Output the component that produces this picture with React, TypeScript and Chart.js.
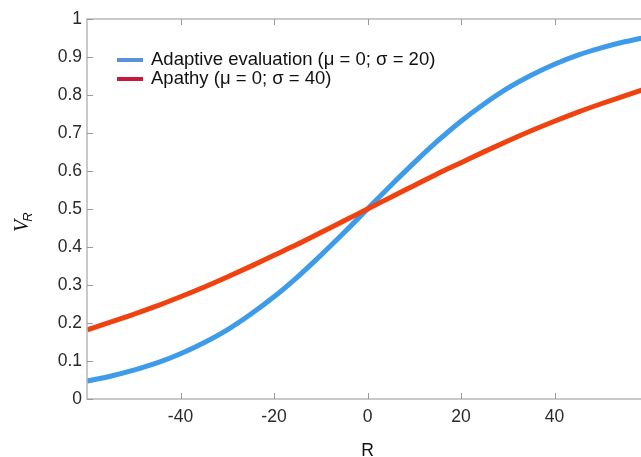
import React, { useEffect, useRef } from "react";
import { Chart, registerables } from "chart.js";

Chart.register(...registerables);

const xValues = [-60, -55, -50, -45, -40, -35, -30, -25, -20, -15, -10, -5, 0, 5, 10, 15, 20, 25, 30, 35, 40, 45, 50, 55, 60];
const adaptiveValues = [0.047, 0.060, 0.076, 0.095, 0.119, 0.148, 0.182, 0.223, 0.269, 0.321, 0.378, 0.438, 0.5, 0.562, 0.622, 0.679, 0.731, 0.777, 0.818, 0.852, 0.881, 0.905, 0.924, 0.940, 0.953];
const apathyValues = [0.182, 0.202, 0.223, 0.245, 0.269, 0.294, 0.321, 0.349, 0.378, 0.407, 0.438, 0.469, 0.5, 0.531, 0.562, 0.593, 0.622, 0.651, 0.679, 0.706, 0.731, 0.755, 0.777, 0.798, 0.818];
const xTickLabels = [-40, -20, 0, 20, 40];
const yTickLabels = [0, 0.1, 0.2, 0.3, 0.4, 0.5, 0.6, 0.7, 0.8, 0.9, 1];
const legendLabels = ["Adaptive evaluation (\u03bc = 0; \u03c3 = 20)", "Apathy (\u03bc = 0; \u03c3 = 40)"];

const FONT = "Arial, 'Liberation Sans', sans-serif";
const BLUE = "#3d9be9";
const RED = "#f0420f";
const LEG_BLUE = "#5b90dc";
const LEG_RED = "#c8193c";
const AXIS = "#b8b8b8";

const boxPlugin = {
  id: "boxAndExtras",
  afterDraw(chart: any) {
    const { ctx, chartArea } = chart;
    const { left, right, top, bottom } = chartArea;
    const xs = chart.scales.x;
    const ys = chart.scales.y;
    ctx.save();
    ctx.strokeStyle = AXIS;
    ctx.lineWidth = 1.5;
    ctx.beginPath();
    ctx.moveTo(left, top);
    ctx.lineTo(right, top);
    ctx.lineTo(right, bottom);
    ctx.lineTo(left, bottom);
    ctx.closePath();
    ctx.stroke();
    ctx.lineWidth = 1;
    ctx.strokeStyle = "#9a9a9a";
    const tl = 6;
    for (const v of xTickLabels) {
      const px = Math.round(xs.getPixelForValue(v)) + 0.5;
      ctx.beginPath();
      ctx.moveTo(px, bottom);
      ctx.lineTo(px, bottom - tl);
      ctx.moveTo(px, top);
      ctx.lineTo(px, top + tl);
      ctx.stroke();
    }
    for (const v of yTickLabels) {
      const py = Math.round(ys.getPixelForValue(v)) + 0.5;
      ctx.beginPath();
      ctx.moveTo(left, py);
      ctx.lineTo(left + tl, py);
      ctx.moveTo(right, py);
      ctx.lineTo(right - tl, py);
      ctx.stroke();
    }
    // legend
    const rows = [
      { text: legendLabels[0], color: LEG_BLUE, y: 60 },
      { text: legendLabels[1], color: LEG_RED, y: 79 },
    ];
    ctx.font = "18.5px " + FONT;
    ctx.textBaseline = "middle";
    ctx.textAlign = "left";
    for (const r of rows) {
      ctx.strokeStyle = r.color;
      ctx.lineWidth = 4;
      ctx.beginPath();
      ctx.moveTo(117, r.y);
      ctx.lineTo(143, r.y);
      ctx.stroke();
      ctx.fillStyle = "#111";
      ctx.fillText(r.text, 151, r.y);
    }
    // y-axis title V_R
    ctx.save();
    ctx.translate(24, 222);
    ctx.rotate(-Math.PI / 2);
    ctx.fillStyle = "#111";
    ctx.textBaseline = "alphabetic";
    ctx.font = "italic 20px 'Liberation Serif', 'Times New Roman', serif";
    ctx.fillText("V", -10, 4);
    const vw = ctx.measureText("V").width;
    ctx.font = "italic 13px " + FONT;
    ctx.fillText("R", -10 + vw - 2, 8);
    ctx.restore();
    ctx.restore();
  },
};

export default function App() {
  const ref = useRef<HTMLCanvasElement | null>(null);
  useEffect(() => {
    if (!ref.current) return;
    const chart = new Chart(ref.current, {
      type: "line",
      data: {
        datasets: [
          {
            label: legendLabels[0],
            data: xValues.map((x, i) => ({ x, y: adaptiveValues[i] })),
            borderColor: BLUE,
            borderWidth: 5,
            pointRadius: 0,
            cubicInterpolationMode: "monotone",
            order: 2,
          },
          {
            label: legendLabels[1],
            data: xValues.map((x, i) => ({ x, y: apathyValues[i] })),
            borderColor: RED,
            borderWidth: 5,
            pointRadius: 0,
            cubicInterpolationMode: "monotone",
            order: 1,
          },
        ],
      },
      options: {
        animation: false,
        responsive: false,
        maintainAspectRatio: false,
        layout: { padding: { top: 19, right: 0, left: 0, bottom: 0 } },
        plugins: {
          legend: { display: false },
          tooltip: { enabled: false },
        },
        scales: {
          x: {
            type: "linear",
            min: -60,
            max: 60,
            border: { display: false },
            grid: { display: false, drawTicks: false },
            afterBuildTicks: (s: any) => {
              s.ticks = xTickLabels.map((v) => ({ value: v }));
            },
            afterFit: (s: any) => {
              s.height = 58;
            },
            ticks: {
              color: "#2a2a2a",
              font: { size: 17.5, family: FONT },
              padding: 8,
              maxRotation: 0,
              callback: (v: any) => String(v),
            },
            title: {
              display: true,
              text: "R",
              color: "#111",
              font: { size: 17.5, family: FONT },
              padding: { top: 12, bottom: -5 },
            },
          },
          y: {
            min: 0,
            max: 1,
            border: { display: false },
            grid: { display: false, drawTicks: false },
            afterBuildTicks: (s: any) => {
              s.ticks = yTickLabels.map((v) => ({ value: v }));
            },
            afterFit: (s: any) => {
              s.width = 87;
            },
            ticks: {
              color: "#2a2a2a",
              font: { size: 17.5, family: FONT },
              padding: 5,
              callback: (v: any) => String(v),
            },
          },
        },
      },
      plugins: [boxPlugin],
    });
    return () => chart.destroy();
  }, []);
  return (
    <div style={{ position: "fixed", left: 0, top: 0, width: 641, height: 457, overflow: "hidden", background: "#fff" }}>
      <canvas ref={ref} width={648} height={457} style={{ display: "block" }} />
    </div>
  );
}
